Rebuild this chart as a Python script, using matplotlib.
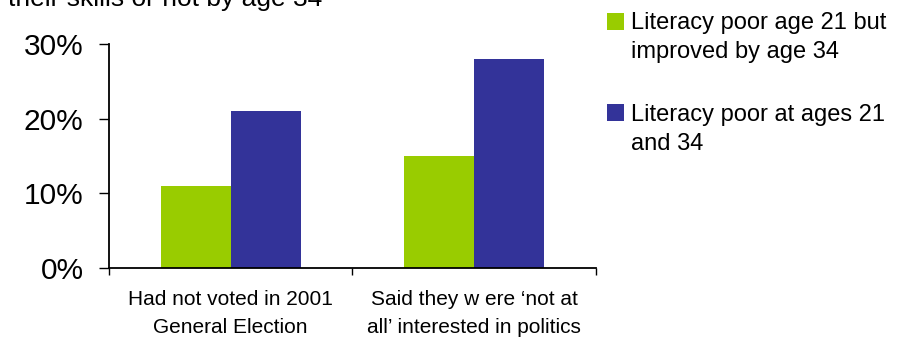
import numpy as np
import matplotlib
matplotlib.use("Agg")
import matplotlib.pyplot as plt
from matplotlib.patches import Rectangle
from matplotlib.ticker import FuncFormatter

plt.rcParams['font.family'] = ['Liberation Sans', 'DejaVu Sans']

# data
categories = ["Had not voted in 2001\nGeneral Election",
              "Said they w ere \u2018not at\nall\u2019 interested in politics"]
series_names = ["Literacy poor age 21 but\nimproved by age 34",
                "Literacy poor at ages 21\nand 34"]
improved = [11, 15]
poor_both = [21, 28]
colors = ["#99CC00", "#333399"]
yticks = [0, 10, 20, 30]

W, H = 912, 339
fig = plt.figure(figsize=(W / 100, H / 100), dpi=100)
ax = fig.add_axes([109 / W, 1 - 267.7 / H, (596 - 109) / W, (267.7 - 44.3) / H])

x = np.arange(len(categories))
w = 0.287
ax.bar(x - w / 2, improved, w, color=colors[0], zorder=2)
ax.bar(x + w / 2, poor_both, w, color=colors[1], zorder=2)

ax.set_xlim(-0.5, len(categories) - 0.5)
ax.set_ylim(0, 30)
ax.set_yticks(yticks)
ax.yaxis.set_major_formatter(FuncFormatter(lambda v, p: f"{v:.0f}%"))
ax.tick_params(axis='y', direction='out', length=7.2, width=1, pad=11,
               labelsize=21.5, color='black')

ax.set_xticks(x)
ax.set_xticklabels(categories, fontsize=15, linespacing=1.6)
ax.set_xticks(np.arange(len(categories) + 1) - 0.5, minor=True)
ax.tick_params(axis='x', which='major', length=0, pad=16)
ax.tick_params(axis='x', which='minor', direction='out', length=5, width=1)

for s in ['top', 'right']:
    ax.spines[s].set_visible(False)
for s in ['left', 'bottom']:
    ax.spines[s].set_linewidth(1.3)
    ax.spines[s].set_color('black')
    ax.spines[s].set_zorder(3)

# legend, square aligned with first line of each label
leg_rows = [(12.7, 29.3), (104.0, 120.7)]
line_gap = 29
for (top, base), name, c in zip(leg_rows, series_names, colors):
    fig.add_artist(Rectangle((607 / W, 1 - (top + 16.8) / H), 16.8 / W, 16.8 / H,
                             transform=fig.transFigure, color=c, lw=0))
    for i, line in enumerate(name.split("\n")):
        fig.text(631 / W, 1 - (base + i * line_gap) / H, line, fontsize=17,
                 va='baseline', ha='left')

# title clipped at the top of the picture
fig.text(8 / W, 1 - 5.7 / H, "their skills or not by age 34", fontsize=19,
         va='baseline', ha='left')

fig.savefig("out.png", dpi=100)
